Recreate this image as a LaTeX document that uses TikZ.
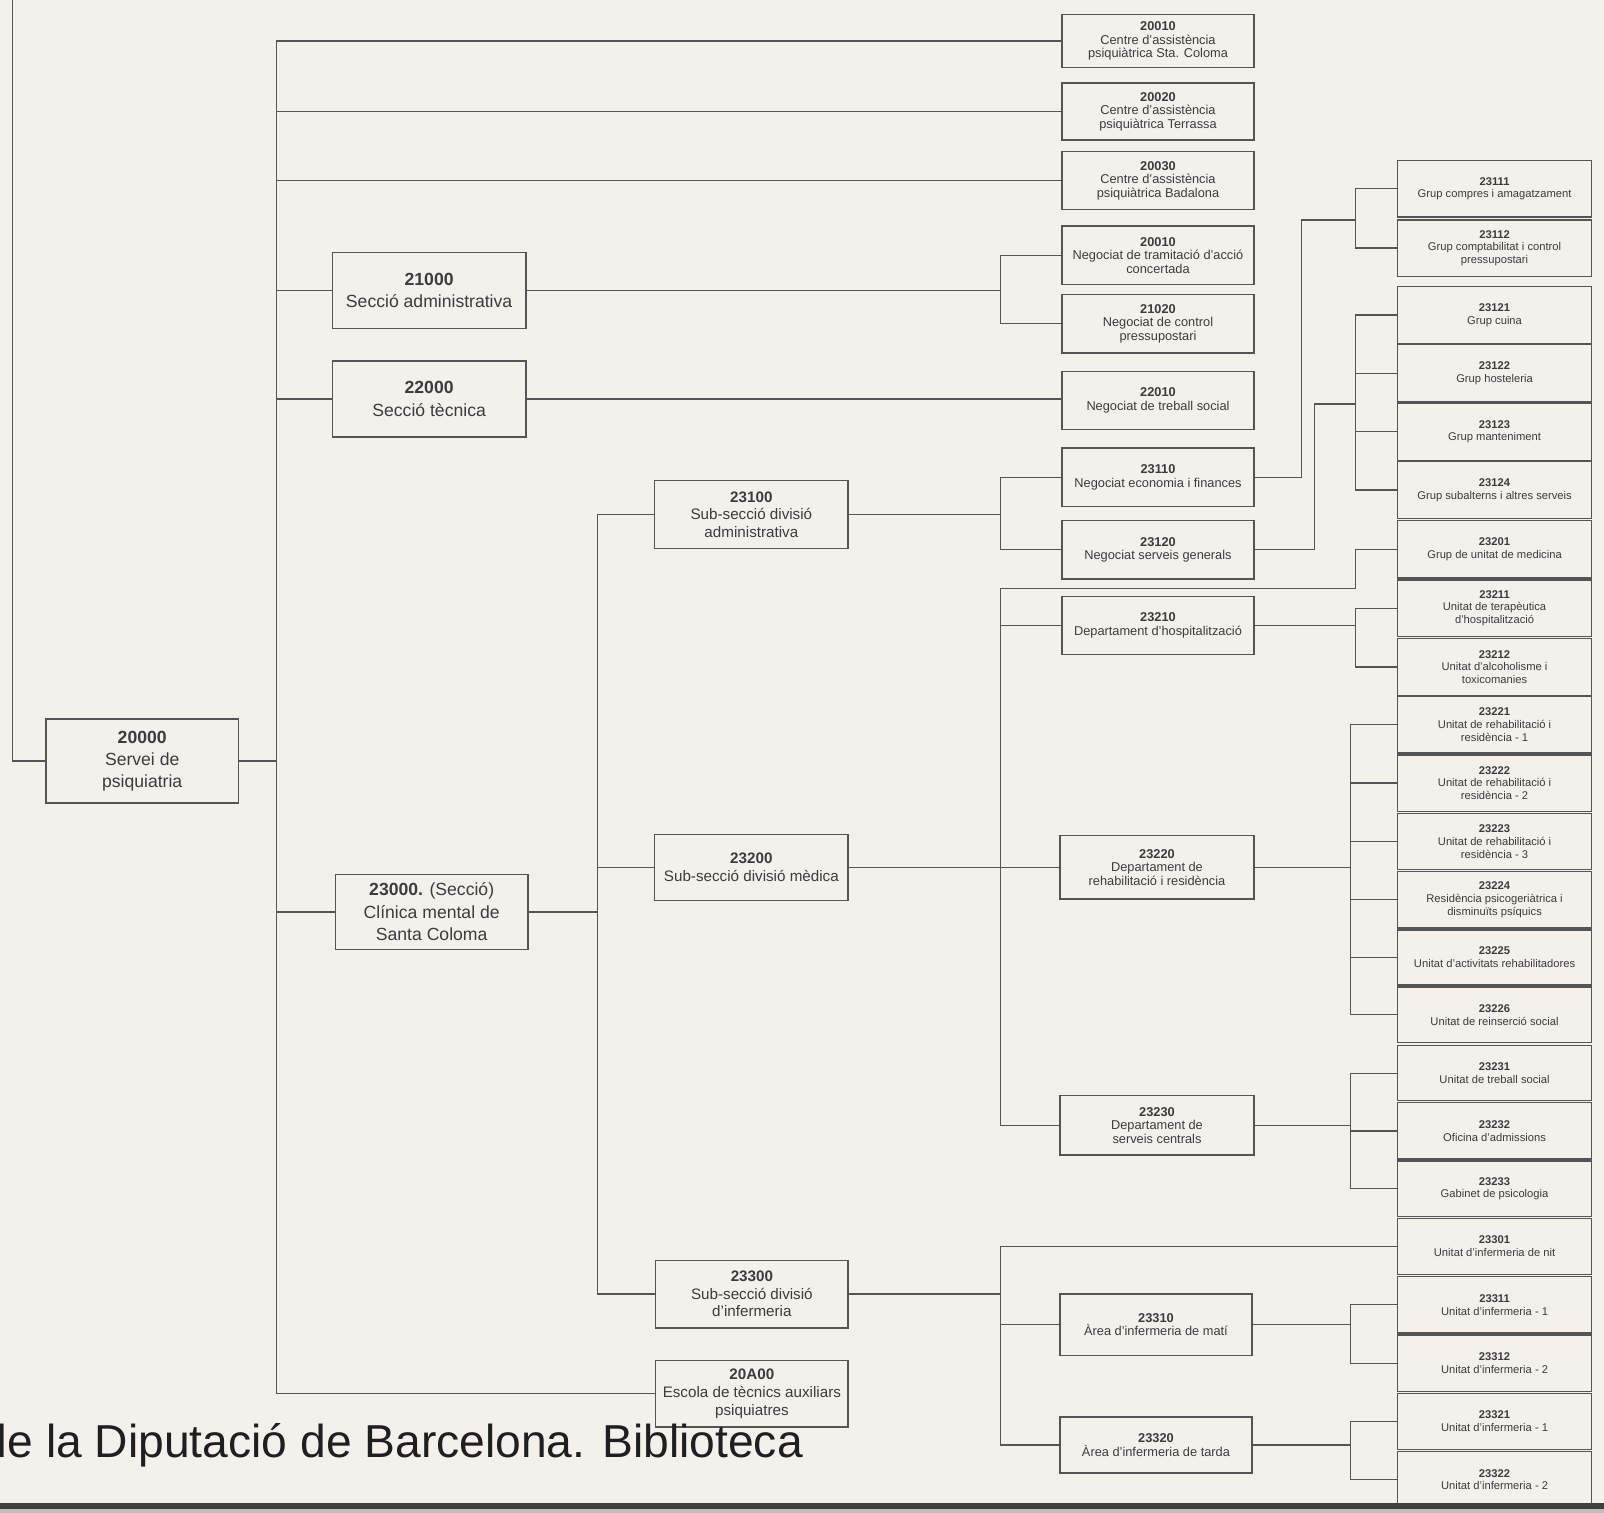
\documentclass[tikz,border=0pt]{standalone}
\usepackage{fontspec}
\setmainfont{Liberation Sans}
\newfontfamily\wmfont{Liberation Sans}
\usetikzlibrary{calc}
\definecolor{paper}{HTML}{F4F1EC}
\definecolor{ink}{HTML}{555555}
\definecolor{txt}{HTML}{3C3C3C}
\tikzset{
 box/.style={draw=ink, line width=0.7pt, fill=paper, align=center, inner sep=1pt, text=txt},
 bigbox/.style={box, font=\fontsize{8.8}{11.2}\selectfont},
 midbox/.style={box, font=\fontsize{7.6}{8.8}\selectfont},
 smallbox/.style={box, font=\fontsize{6.4}{6.8}\selectfont},
 tinybox/.style={box, font=\fontsize{5.6}{6.4}\selectfont},
 link/.style={draw=ink, line width=0.6pt},
}
\newcommand\bx[7]{\node[#6, minimum width={(#4-#2)*0.5115pt}, minimum height={(#5-#3)*0.5115pt}] (#1) at ({(#2+#4)/2},{(#3+#5)/2}) {#7};}
\begin{document}
\begin{tikzpicture}[x=0.5115pt,y=-0.5115pt]
\fill[paper] (0,0) rectangle (1568,1479);
\useasboundingbox (0,0) rectangle (1568,1479);
% level 0
\bx{b20000}{45}{703}{233}{785}{bigbox}{\textbf{20000}\\Servei de\\psiquiatria}
% level 1
\bx{b21000}{325}{247}{514}{321}{bigbox}{\textbf{21000}\\Secció administrativa}
\bx{b22000}{325}{353}{514}{427}{bigbox}{\textbf{22000}\\Secció tècnica}
\bx{b23000}{328}{855}{516}{928}{bigbox}{\textbf{23000.} (Secció)\\Clínica mental de\\Santa Coloma}
% level 2
\bx{b23100}{640}{470}{829}{536}{midbox}{\textbf{23100}\\Sub-secció divisió\\administrativa}
\bx{b23200}{640}{816}{829}{880}{midbox}{\textbf{23200}\\Sub-secció divisió mèdica}
\bx{b23300}{641}{1232}{829}{1298}{midbox}{\textbf{23300}\\Sub-secció divisió\\d'infermeria}
\bx{b20A00}{641}{1330}{829}{1395}{midbox}{\textbf{20A00}\\Escola de tècnics auxiliars\\psiquiatres}
% column B
\bx{b20010}{1038}{14}{1226}{66}{smallbox}{\textbf{20010}\\Centre d'assistència\\psiquiàtrica Sta. Coloma}
\bx{b20020}{1038}{81}{1226}{137}{smallbox}{\textbf{20020}\\Centre d'assistència\\psiquiàtrica Terrassa}
\bx{b20030}{1038}{148}{1226}{205}{smallbox}{\textbf{20030}\\Centre d'assistència\\psiquiàtrica Badalona}
\bx{b20010n}{1038}{221}{1226}{278}{smallbox}{\textbf{20010}\\Negociat de tramitació d'acció\\concertada}
\bx{b21020}{1038}{288}{1226}{345}{smallbox}{\textbf{21020}\\Negociat de control\\pressupostari}
\bx{b22010}{1038}{363}{1226}{420}{smallbox}{\textbf{22010}\\Negociat de treball social}
\bx{b23110}{1038}{438}{1226}{495}{smallbox}{\textbf{23110}\\Negociat economia i finances}
\bx{b23120}{1038}{509}{1226}{566}{smallbox}{\textbf{23120}\\Negociat serveis generals}
\bx{b23210}{1038}{583}{1226}{640}{smallbox}{\textbf{23210}\\Departament d'hospitalització}
\bx{b23220}{1036}{817}{1226}{879}{smallbox}{\textbf{23220}\\Departament de\\rehabilitació i residència}
\bx{b23230}{1036}{1071}{1226}{1129}{smallbox}{\textbf{23230}\\Departament de\\serveis centrals}
\bx{b23310}{1036}{1265}{1224}{1325}{smallbox}{\textbf{23310}\\Àrea d'infermeria de matí}
\bx{b23320}{1036}{1385}{1224}{1440}{smallbox}{\textbf{23320}\\Àrea d'infermeria de tarda}
% right column
\bx{b23111}{1366}{157}{1556}{212}{tinybox}{\textbf{23111}\\Grup compres i amagatzament}
\bx{b23112}{1366}{215}{1556}{270}{tinybox}{\textbf{23112}\\Grup comptabilitat i control\\pressupostari}
\bx{b23121}{1366}{280}{1556}{336}{tinybox}{\textbf{23121}\\Grup cuina}
\bx{b23122}{1366}{337}{1556}{393}{tinybox}{\textbf{23122}\\Grup hosteleria}
\bx{b23123}{1366}{394}{1556}{450}{tinybox}{\textbf{23123}\\Grup manteniment}
\bx{b23124}{1366}{451}{1556}{507}{tinybox}{\textbf{23124}\\Grup subalterns i altres serveis}
\bx{b23201}{1366}{509}{1556}{565}{tinybox}{\textbf{23201}\\Grup de unitat de medicina}
\bx{b23211}{1366}{567}{1556}{622}{tinybox}{\textbf{23211}\\Unitat de terapèutica\\d'hospitalització}
\bx{b23212}{1366}{624}{1556}{680}{tinybox}{\textbf{23212}\\Unitat d'alcoholisme i\\toxicomanies}
\bx{b23221}{1366}{681}{1556}{736}{tinybox}{\textbf{23221}\\Unitat de rehabilitació i\\residència - 1}
\bx{b23222}{1366}{738}{1556}{793}{tinybox}{\textbf{23222}\\Unitat de rehabilitació i\\residència - 2}
\bx{b23223}{1366}{795}{1556}{850}{tinybox}{\textbf{23223}\\Unitat de rehabilitació i\\residència - 3}
\bx{b23224}{1366}{852}{1556}{907}{tinybox}{\textbf{23224}\\Residència psicogeriàtrica i\\disminuïts psíquics}
\bx{b23225}{1366}{909}{1556}{963}{tinybox}{\textbf{23225}\\Unitat d'activitats rehabilitadores}
\bx{b23226}{1366}{965}{1556}{1019}{tinybox}{\textbf{23226}\\Unitat de reinserció social}
\bx{b23231}{1366}{1022}{1556}{1076}{tinybox}{\textbf{23231}\\Unitat de treball social}
\bx{b23232}{1366}{1078}{1556}{1133}{tinybox}{\textbf{23232}\\Oficina d'admissions}
\bx{b23233}{1366}{1135}{1556}{1189}{tinybox}{\textbf{23233}\\Gabinet de psicologia}
\bx{b23301}{1366}{1191}{1556}{1246}{tinybox}{\textbf{23301}\\Unitat d'infermeria de nit}
\bx{b23311}{1366}{1248}{1556}{1303}{tinybox}{\textbf{23311}\\Unitat d'infermeria - 1}
\bx{b23312}{1366}{1305}{1556}{1360}{tinybox}{\textbf{23312}\\Unitat d'infermeria - 2}
\bx{b23321}{1366}{1362}{1556}{1417}{tinybox}{\textbf{23321}\\Unitat d'infermeria - 1}
\bx{b23322}{1366}{1419}{1556}{1474}{tinybox}{\textbf{23322}\\Unitat d'infermeria - 2}
% bus coordinates
\coordinate (topL) at (12,0);
\coordinate (T) at (270,0);
\coordinate (B2) at (584,0);
\coordinate (B3) at (978,0);
\coordinate (R1) at (1325,0);
\coordinate (R2) at (1320,0);
\coordinate (K1) at (1272,215);
\coordinate (K2) at (1285,395);
\coordinate (K3) at (1325,575);
% root
\draw[link] (topL) |- (b20000.west);
\draw[link] (b20000.east) -- (b20000.east -| T);
\draw[link] (b20010.west -| T) -- (b20A00.west -| T);
\foreach \n in {20010,20020,20030,21000,22000,23000,20A00}
  \draw[link] (b\n.west -| T) -- (b\n.west);
% 21000
\draw[link] (b21000.east) -- (b21000.east -| B3);
\draw[link] (b20010n.west -| B3) -- (b21020.west -| B3);
\foreach \n in {20010n,21020} \draw[link] (b\n.west -| B3) -- (b\n.west);
% 22000
\draw[link] (b22000.east) -- (b22000.east -| b22010.west);
% 23000
\draw[link] (b23000.east) -- (b23000.east -| B2);
\draw[link] (b23100.west -| B2) -- (b23300.west -| B2);
\foreach \n in {23100,23200,23300} \draw[link] (b\n.west -| B2) -- (b\n.west);
% 23100
\draw[link] (b23100.east) -- (b23100.east -| B3);
\draw[link] (b23110.west -| B3) -- (b23120.west -| B3);
\foreach \n in {23110,23120} \draw[link] (b\n.west -| B3) -- (b\n.west);
% 23200
\draw[link] (b23200.east) -- (b23200.east -| B3);
\draw[link] (K3 -| B3) -- (b23230.west -| B3);
\draw[link] (K3 -| B3) -- (K3) |- (b23201.west);
\foreach \n in {23210,23220,23230} \draw[link] (b\n.west -| B3) -- (b\n.west);
% 23300
\draw[link] (b23300.east) -- (b23300.east -| B3);
\draw[link] (b23301.west -| B3) -- (b23320.west -| B3);
\foreach \n in {23301,23310,23320} \draw[link] (b\n.west -| B3) -- (b\n.west);
% 23110
\draw[link] (b23110.east) -| (K1) -- (K1 -| R1);
\draw[link] (b23111.west -| R1) -- (b23112.west -| R1);
\foreach \n in {23111,23112} \draw[link] (b\n.west -| R1) -- (b\n.west);
% 23120
\draw[link] (b23120.east) -| (K2) -- (K2 -| R1);
\draw[link] (b23121.west -| R1) -- (b23124.west -| R1);
\foreach \n in {23121,23122,23123,23124} \draw[link] (b\n.west -| R1) -- (b\n.west);
% 23210
\draw[link] (b23210.east) -- (b23210.east -| R1);
\draw[link] (b23211.west -| R1) -- (b23212.west -| R1);
\foreach \n in {23211,23212} \draw[link] (b\n.west -| R1) -- (b\n.west);
% 23220
\draw[link] (b23220.east) -- (b23220.east -| R2);
\draw[link] (b23221.west -| R2) -- (b23226.west -| R2);
\foreach \n in {23221,23222,23223,23224,23225,23226} \draw[link] (b\n.west -| R2) -- (b\n.west);
% 23230
\draw[link] (b23230.east) -- (b23230.east -| R2);
\draw[link] (b23231.west -| R2) -- (b23233.west -| R2);
\foreach \n in {23231,23232,23233} \draw[link] (b\n.west -| R2) -- (b\n.west);
% 23310
\draw[link] (b23310.east) -- (b23310.east -| R2);
\draw[link] (b23311.west -| R2) -- (b23312.west -| R2);
\foreach \n in {23311,23312} \draw[link] (b\n.west -| R2) -- (b\n.west);
% 23320
\draw[link] (b23320.east) -- (b23320.east -| R2);
\draw[link] (b23321.west -| R2) -- (b23322.west -| R2);
\foreach \n in {23321,23322} \draw[link] (b\n.west -| R2) -- (b\n.west);
% watermark
\node[font=\wmfont\fontsize{23.1}{28}\selectfont, text=black!88, anchor=base west, inner sep=0pt] (wm) at (-18,1425) {de la Diputació de Barcelona. Biblioteca};
% bottom band
\fill[black!75] (0,1469) rectangle (1568,1475);
\fill[black!25] (0,1475) rectangle (1568,1479);
\end{tikzpicture}
\end{document}
